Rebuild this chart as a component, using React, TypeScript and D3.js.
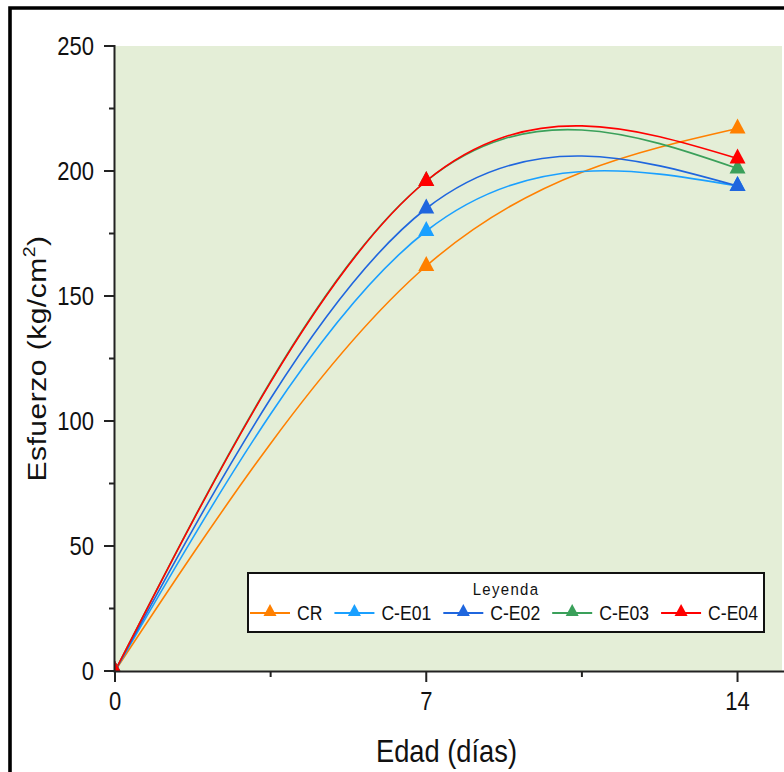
import React from "react";
import * as d3 from "d3";

const days = [0, 7, 14];
const seriesNames = ["CR", "C-E01", "C-E02", "C-E03", "C-E04"];
const valuesCR = [0, 162, 217];
const valuesCE01 = [0, 176, 194];
const valuesCE02 = [0, 185, 194];
const valuesCE03 = [0, 196, 201];
const valuesCE04 = [0, 196, 205];
const seriesColors = ["#FF8000", "#1AA0FF", "#1F66DE", "#3AA05A", "#FF0000"];
const yTicks = [0, 50, 100, 150, 200, 250];
const yMinorTicks = [25, 75, 125, 175, 225];
const xTicks = [0, 7, 14];
const xMinorTicks = [3.5, 10.5];

const W = 784;
const H = 772;
const margin = { left: 115, top: 46, right: 2, bottom: 101 };
const SX = 0.88;
const FONT = "'Liberation Sans', Arial, sans-serif";

function measure(text: string, size: number) {
  if (typeof document === "undefined") return text.length * size * 0.55;
  const c = document.createElement("canvas");
  const ctx = c.getContext("2d");
  if (!ctx) return text.length * size * 0.55;
  ctx.font = `${size}px 'Liberation Sans', Arial, sans-serif`;
  return ctx.measureText(text).width;
}

function tri(w: number, h: number) {
  return `M0,${-(2 * h) / 3}L${w / 2},${h / 3}L${-w / 2},${h / 3}Z`;
}

export default function App() {
  const allValues = [valuesCR, valuesCE01, valuesCE02, valuesCE03, valuesCE04];
  const series = seriesNames.map((name, i) => ({
    name,
    color: seriesColors[i],
    points: days.map((d, j) => ({ x: d, y: allValues[i][j] })),
  }));

  const x = d3.scaleLinear().domain([0, 15]).range([margin.left, W - margin.right]);
  const y = d3.scaleLinear().domain([0, 250]).range([H - margin.bottom, margin.top]);

  const line = d3
    .line<{ x: number; y: number }>()
    .x((d) => x(d.x))
    .y((d) => y(d.y))
    .curve(d3.curveNatural);

  const x0 = x(0);
  const x1 = x(15);
  const y0 = y(0);
  const y1 = y(250);

  // legend layout
  const legX = 248;
  const legY = 573;
  const legW = 516;
  const legH = 59;
  const legFont = 20;
  const lineLen = 40;
  let cursor = legX + 2;
  const legendItems = series.map((s) => {
    const start = cursor;
    const tx = start + lineLen + 7;
    const tw = measure(s.name, legFont) * SX;
    cursor = tx + tw + 12;
    return { ...s, start, tx };
  });
  const legRowY = legY + 40;

  const tickFont = 25;
  const titleFont = 31;

  return (
    <svg
      width={W}
      height={H}
      style={{ position: "absolute", left: 0, top: 0, background: "#fff" }}
      fontFamily={FONT}
    >
      <defs>
        <clipPath id="plotclip">
          <rect x={x0} y={y1} width={x1 - x0} height={y0 - y1} />
        </clipPath>
      </defs>
      <rect x={0} y={0} width={W} height={H} fill="#fff" />
      {/* outer frame */}
      <path d={`M10,${H + 5}V8H${W + 5}`} fill="none" stroke="#000" strokeWidth={3.6} />

      {/* plot background */}
      <rect x={x0} y={y1} width={x1 - x0} height={y0 - y1} fill="#E4EED7" />

      {/* curves */}
      <g clipPath="url(#plotclip)">
        {series.map((s) => (
          <path key={s.name} d={line(s.points) || ""} fill="none" stroke={s.color} strokeWidth={1.6} />
        ))}
        {series.map((s) =>
          s.points.map((p, j) => (
            <path
              key={s.name + j}
              d={tri(16, 15)}
              transform={`translate(${x(p.x)},${y(p.y)})`}
              fill={s.color}
            />
          ))
        )}
      </g>

      {/* axes */}
      <line x1={x0 - 0.5} x2={x0 - 0.5} y1={y1 - 1} y2={y0 + 1} stroke="#222" strokeWidth={2} />
      <line x1={x0 - 1.5} x2={W} y1={y0 + 0.5} y2={y0 + 0.5} stroke="#222" strokeWidth={2} />

      {yTicks.map((t) => (
        <g key={"yt" + t}>
          <line x1={x0 - 11} x2={x0 - 0.5} y1={y(t)} y2={y(t)} stroke="#222" strokeWidth={2} />
          <text
            transform={`translate(${x0 - 21},${y(t) + tickFont * 0.35}) scale(${SX},1)`}
            textAnchor="end"
            fontSize={tickFont}
            fill="#111"
          >
            {t}
          </text>
        </g>
      ))}
      {yMinorTicks.map((t) => (
        <line key={"ym" + t} x1={x0 - 6} x2={x0 - 0.5} y1={y(t)} y2={y(t)} stroke="#222" strokeWidth={2} />
      ))}
      {xTicks.map((t) => (
        <g key={"xt" + t}>
          <line x1={x(t)} x2={x(t)} y1={y0 + 0.5} y2={y0 + 11} stroke="#222" strokeWidth={2} />
          <text
            transform={`translate(${x(t)},${y0 + 39}) scale(${SX},1)`}
            textAnchor="middle"
            fontSize={tickFont}
            fill="#111"
          >
            {t}
          </text>
        </g>
      ))}
      {xMinorTicks.map((t) => (
        <line key={"xm" + t} x1={x(t)} x2={x(t)} y1={y0 + 0.5} y2={y0 + 6} stroke="#222" strokeWidth={2} />
      ))}

      {/* axis titles */}
      <text
        transform={`translate(${(x0 + x1) / 2 - 2},762) scale(${SX},1)`}
        textAnchor="middle"
        fontSize={titleFont}
        fill="#111"
      >
        Edad (días)
      </text>
      <text
        transform={`translate(46,${(y0 + y1) / 2}) scale(${SX},1) rotate(-90)`}
        textAnchor="middle"
        fontSize={30}
        letterSpacing={0.5}
        fill="#111"
      >
        Esfuerzo (kg/cm
        <tspan fontSize={30 * 0.65} dy={-30 * 0.4}>
          2
        </tspan>
        <tspan dy={30 * 0.4}>)</tspan>
      </text>

      {/* legend */}
      <rect x={legX} y={legY} width={legW} height={legH} fill="#fff" stroke="#111" strokeWidth={2} />
      <text
        transform={`translate(${legX + legW / 2},${legY + 22}) scale(${SX},1)`}
        textAnchor="middle"
        fontSize={17}
        letterSpacing={1.5}
        fill="#111"
      >
        Leyenda
      </text>
      {legendItems.map((it) => (
        <g key={"lg" + it.name}>
          <line x1={it.start} x2={it.start + lineLen} y1={legRowY} y2={legRowY} stroke={it.color} strokeWidth={2} />
          <path
            d={tri(13, 12)}
            transform={`translate(${it.start + lineLen / 2},${legRowY - 1})`}
            fill={it.color}
          />
          <text
            transform={`translate(${it.tx},${legRowY + legFont * 0.36}) scale(${SX},1)`}
            fontSize={legFont}
            fill="#111"
          >
            {it.name}
          </text>
        </g>
      ))}
    </svg>
  );
}
